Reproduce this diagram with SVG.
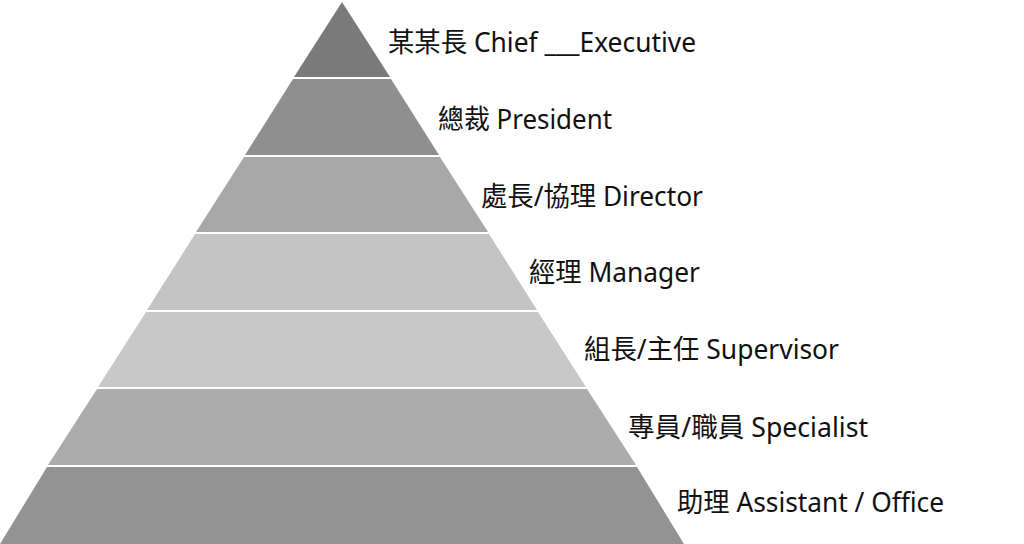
<svg xmlns="http://www.w3.org/2000/svg" width="1024" height="544" viewBox="0 0 1024 544">
<style>
.lbl{font-family:"Noto Sans","Noto Sans CJK TC",sans-serif;font-size:27px;fill:#111111}
</style>
<rect width="1024" height="544" fill="#ffffff"/>
<g id="layer1"><polygon points="342,2 390,77 294,77" fill="#7a7a7a"/><text class="lbl" x="388" y="52" textLength="308" lengthAdjust="spacingAndGlyphs">某某長 Chief ___Executive</text></g>
<g id="layer2"><polygon points="293,79 391,79 439,155 245,155" fill="#8f8f8f"/><text class="lbl" x="438" y="129" textLength="174" lengthAdjust="spacingAndGlyphs">總裁 President</text></g>
<g id="layer3"><polygon points="244,157 440,157 488,232 196,232" fill="#a8a8a8"/><text class="lbl" x="481" y="206" textLength="222" lengthAdjust="spacingAndGlyphs">處長/協理 Director</text></g>
<g id="layer4"><polygon points="195,234 489,234 537,310 147,310" fill="#c4c4c4"/><text class="lbl" x="529" y="282" textLength="171" lengthAdjust="spacingAndGlyphs">經理 Manager</text></g>
<g id="layer5"><polygon points="146,312 538,312 586,387 98,387" fill="#c8c8c8"/><text class="lbl" x="584" y="359" textLength="255" lengthAdjust="spacingAndGlyphs">組長/主任 Supervisor</text></g>
<g id="layer6"><polygon points="97,389 587,389 636,465 48,465" fill="#acacac"/><text class="lbl" x="628" y="437" textLength="240" lengthAdjust="spacingAndGlyphs">專員/職員 Specialist</text></g>
<g id="layer7"><polygon points="47,467 637,467 684,544 0,544" fill="#939393"/><text class="lbl" x="677" y="512" textLength="267" lengthAdjust="spacingAndGlyphs">助理 Assistant / Office</text></g>
</svg>
